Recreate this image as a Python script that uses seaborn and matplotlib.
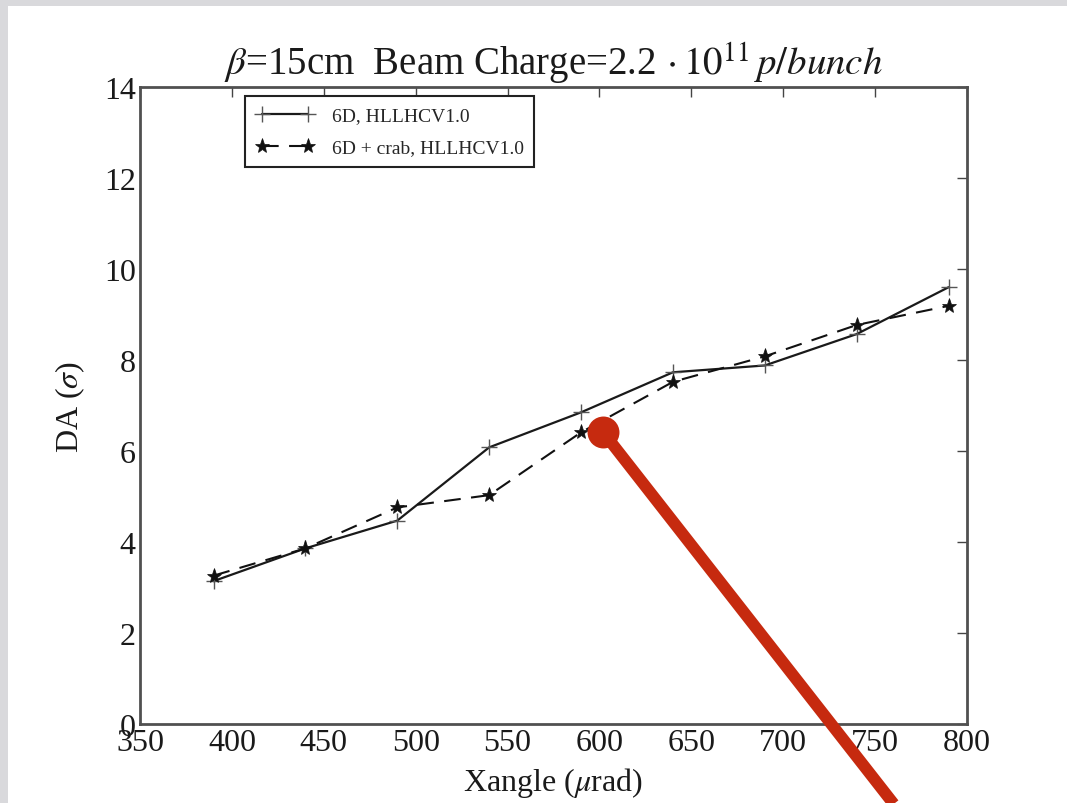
import numpy as np
import pandas as pd
import matplotlib
matplotlib.use("Agg")
import matplotlib.pyplot as plt
import seaborn as sns
from matplotlib.patches import Rectangle
from matplotlib.lines import Line2D

# ---- data ----
xangle = [390, 440, 490, 540, 590, 640, 690, 740, 790]
da_6d = [3.14, 3.86, 4.47, 6.08, 6.85, 7.73, 7.88, 8.57, 9.60]
da_6d_crab = [3.26, 3.86, 4.76, 5.03, 6.41, 7.52, 8.08, 8.77, 9.19]
label_6d = "6D, HLLHCV1.0"
label_crab = "6D + crab, HLLHCV1.0"
xticks = [350, 400, 450, 500, 550, 600, 650, 700, 750, 800]
yticks = [0, 2, 4, 6, 8, 10, 12, 14]

sns.set_style("white")
plt.rcParams['font.family'] = ['Liberation Serif', 'DejaVu Serif']
plt.rcParams['mathtext.fontset'] = 'stix'

W, H = 1067, 804
fig = plt.figure(figsize=(W / 100, H / 100), dpi=100)
fig.patch.set_facecolor('#d9d9dc')
fig.patches.append(Rectangle((8 / W, 0), 1 - 8 / W, 1 - 7 / H, transform=fig.transFigure,
                             facecolor='white', edgecolor='none', zorder=-5))

ax = fig.add_axes([140 / W, 1 - 725 / H, (967 - 140) / W, (725 - 88) / H])
ax.set_zorder(2)
ax.set_facecolor('white')

df = pd.DataFrame({'x': xangle * 2, 'y': da_6d + da_6d_crab,
                   'series': [label_6d] * len(xangle) + [label_crab] * len(xangle)})

sns.lineplot(data=df[df.series == label_6d], x='x', y='y', ax=ax, color='#1a1a1a',
             linestyle='-', marker='+', markersize=12, markeredgewidth=1.0,
             markeredgecolor='#555555', linewidth=1.6, label=label_6d)
sns.lineplot(data=df[df.series == label_crab], x='x', y='y', ax=ax, color='#111111',
             linestyle='--', marker='*', markersize=11, markeredgewidth=0.5,
             markeredgecolor='#111111', markerfacecolor='#111111',
             linewidth=1.5, label=label_crab)
ax.lines[1].set_dashes([8, 5])

ax.set_xlim(350, 800)
ax.set_ylim(0, 14)
ax.set_xticks(xticks)
ax.set_yticks(yticks)
ax.tick_params(direction='in', length=7, width=1, colors='#444444', labelcolor='#1a1a1a',
               labelsize=23, top=True, right=True, pad=3)
for s in ax.spines.values():
    s.set_color('#505050')
    s.set_linewidth(2.0)

ax.set_xlabel(r'Xangle ($\mu$rad)', fontsize=23, color='#1a1a1a', labelpad=6)
ax.set_ylabel(r'DA ($\sigma$)', fontsize=23, color='#1a1a1a', labelpad=12)
ax.set_title(r'$\beta$=15cm  Beam Charge=2.2$\,\cdot 10^{11}\,p/bunch$',
             fontsize=28, color='#1a1a1a', pad=9)

leg = ax.legend(loc='upper left', bbox_to_anchor=(105 / 827, 1 - 9 / 637),
                borderaxespad=0, numpoints=2,
                fontsize=14, frameon=True, fancybox=False, handlelength=3.0,
                borderpad=0.55, labelspacing=0.75, handletextpad=0.9)
leg.get_frame().set_edgecolor('#222222')
leg.get_frame().set_linewidth(1.5)
leg.get_frame().set_alpha(1)
leg.get_lines()[1].set_dashes([8, 5])

# red annotation pointer (overlay above the axes)
red = '#c62a0f'
fig.add_artist(Line2D([603 / W, 900 / W], [1 - 433 / H, 1 - 813 / H], transform=fig.transFigure,
                      color=red, linewidth=8.5, solid_capstyle='butt', zorder=10))
fig.add_artist(Line2D([603 / W], [1 - 433 / H], transform=fig.transFigure, linestyle='none',
                      marker='o', markersize=23, markerfacecolor=red, markeredgecolor='none',
                      zorder=11))

fig.savefig('out.png', dpi=100)
